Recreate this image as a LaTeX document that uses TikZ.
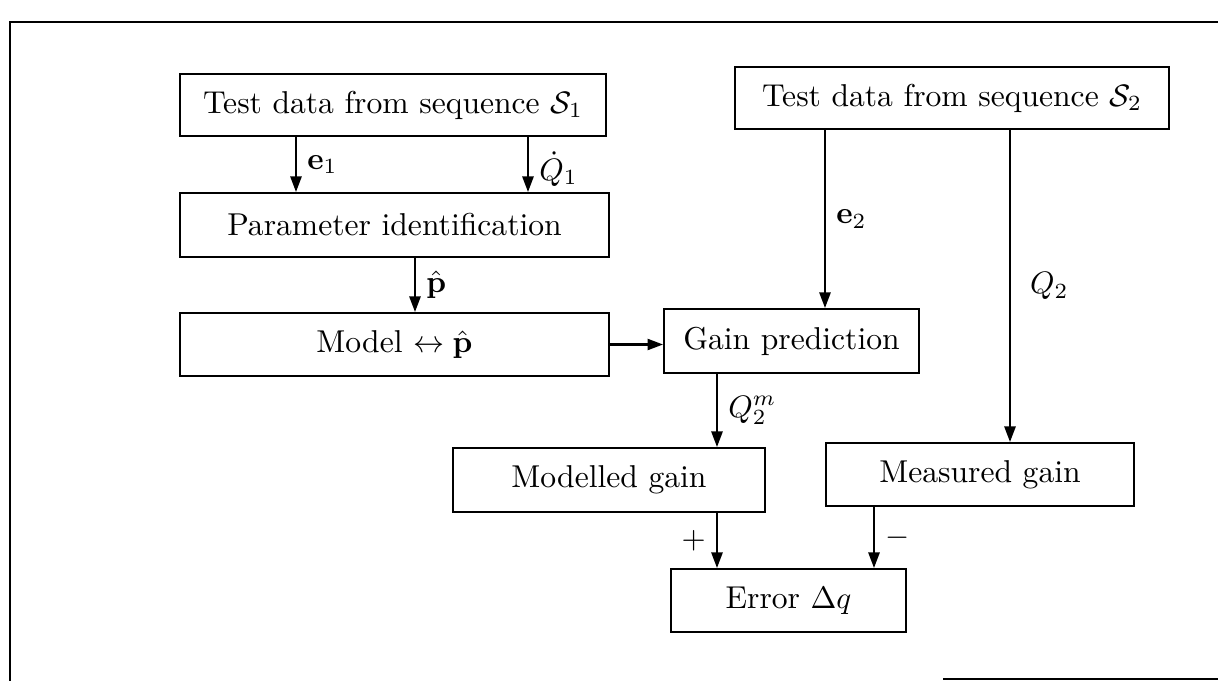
\documentclass[tikz,border=0pt]{standalone}
\usepackage{amsmath}
\usepackage{amssymb}
\usepackage{tikz}
\usetikzlibrary{arrows.meta, calc}
\newcommand{\pxlen}{0.3226}

\begin{document}
\begin{tikzpicture}[x=0.3226pt, y=-0.3226pt,
	font=\fontsize{10.2pt}{12pt}\selectfont,
	box/.style 2 args={draw, line width=0.65pt, rectangle, inner sep=0pt,
		minimum width=#1*\pxlen pt, minimum height=#2*\pxlen pt},
	flow/.style={-{Triangle[length=5pt,width=3.6pt]}, line width=0.65pt}]
\useasboundingbox (0,0) rectangle (1218,681);

% Draw frame
\draw[line width=0.8pt] (10,681) -- (10,22) -- (1218,22);
\draw[line width=0.8pt] (943,679) -- (1218,679);

% Draw boxes
\node[box={426}{62}] (seqA) at (393,105) {Test data from sequence $\mathcal{S}_1$};
\node[box={429}{64}] (ident) at (394.5,225) {Parameter identification};
\node[box={429}{63}] (model) at (394.5,344.5) {Model $\leftrightarrow \hat{\mathbf{p}}$};
\node[box={434}{62}] (seqB) at (952,98) {Test data from sequence $\mathcal{S}_2$};
\node[box={255}{64}] (predict) at (791.5,341) {Gain prediction};
\node[box={312}{64}] (modelled) at (609,480) {Modelled gain};
\node[box={308}{63}] (measured) at (980,474.5) {Measured gain};
\node[box={235}{63}] (error) at (788.5,600.5) {Error $\Delta q$};

% Arrow positions
\coordinate (xe1) at (296,0);
\coordinate (xq1) at (528,0);
\coordinate (xp) at (415,0);
\coordinate (xe2) at (825,0);
\coordinate (xq2) at (1010,0);
\coordinate (xqm) at (717,0);
\coordinate (xmin) at (874,0);

% Draw arrows
\draw[flow] (seqA.south -| xe1) -- (ident.north -| xe1) node[midway,right]{$\mathbf{e}_1$};
\draw[flow] (seqA.south -| xq1) -- (ident.north -| xq1) node[midway,right,yshift=-0.5mm]{$\dot{Q}_1$};
\draw[flow] (ident.south -| xp) -- (model.north -| xp) node[midway,right]{$\hat{\mathbf{p}}$};
\draw[flow] (model.east) -- (model.east -| predict.west);
\draw[flow] (seqB.south -| xe2) -- (predict.north -| xe2) node[midway,right]{$\mathbf{e}_2$};
\draw[flow] (seqB.south -| xq2) -- (measured.north -| xq2) node[midway,right,xshift=1mm]{$Q_2$};
\draw[flow] (predict.south -| xqm) -- (modelled.north -| xqm) node[midway,right]{$Q_2^m$};
\draw[flow] (modelled.south -| xqm) -- (error.north -| xqm) node[midway,left]{$+$};
\draw[flow] (measured.south -| xmin) -- (error.north -| xmin) node[midway,right]{$-$};
\end{tikzpicture}
\end{document}
